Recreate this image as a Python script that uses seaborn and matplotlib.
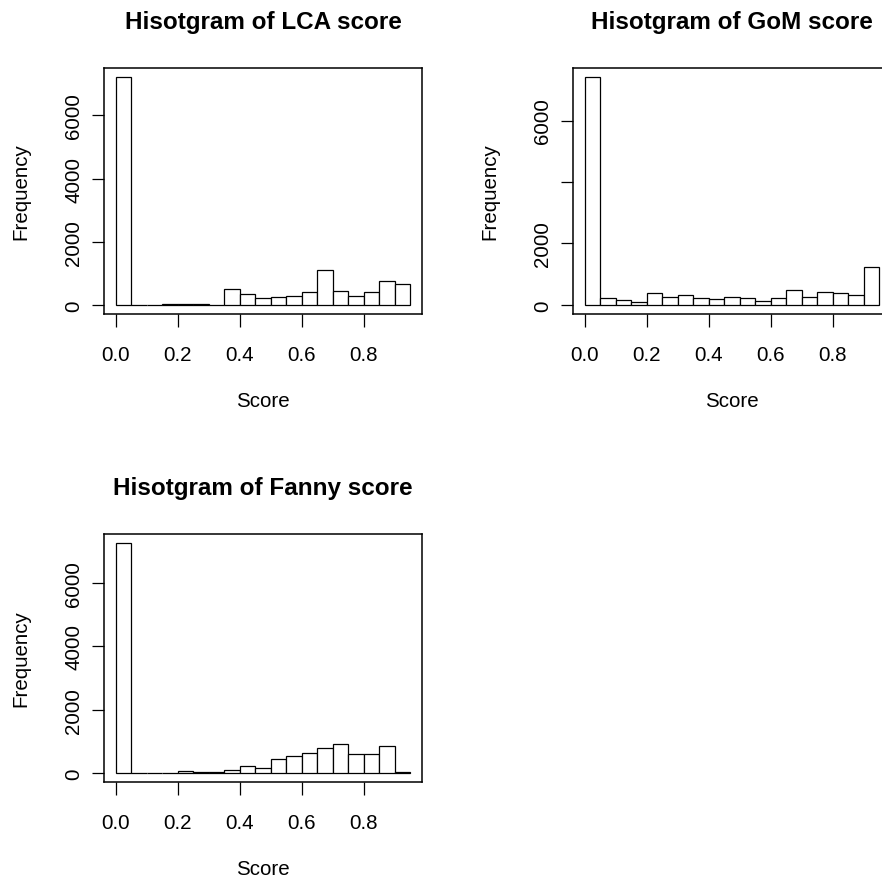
import numpy as np
import pandas as pd
import matplotlib
matplotlib.use("Agg")
import matplotlib.pyplot as plt
import seaborn as sns

# bin edges shared by all three histograms (width 0.05, 0 .. 0.95)
bin_edges = [round(0.05 * i, 2) for i in range(20)]

# counts per bin
lca_counts = [7214, 0, 10, 20, 30, 15, 10, 512, 352, 213, 245, 288, 405,
              1110, 448, 277, 416, 768, 672]
gom_counts = [7412, 208, 175, 88, 373, 263, 318, 219, 186, 263, 230, 132,
              230, 482, 252, 417, 395, 318, 1217]
fanny_counts = [7262, 0, 0, 0, 43, 20, 20, 96, 225, 150, 439, 524, 631,
                770, 898, 610, 610, 834, 32]

titles = ["Hisotgram of LCA score", "Hisotgram of GoM score", "Hisotgram of Fanny score"]
x_ticks = [0.0, 0.2, 0.4, 0.6, 0.8]
x_tick_labels = ["0.0", "0.2", "0.4", "0.6", "0.8"]
y_ticks = [0, 2000, 4000, 6000]
y_tick_labels = [["0", "2000", "4000", "6000"],
                 ["0", "2000", "", "6000"],
                 ["0", "2000", "4000", "6000"]]

sns.set_style("ticks")
plt.rcParams["font.family"] = ["Liberation Sans", "DejaVu Sans"]
plt.rcParams["text.color"] = "black"
plt.rcParams["axes.labelcolor"] = "black"

W, H = 882, 878
fig = plt.figure(figsize=(W / 100, H / 100), dpi=100)

# panel boxes in pixels: (left, top, right, bottom)
boxes = [(104, 69, 422, 315), (573, 69, 891, 315), (104, 535, 422, 783)]
series = [lca_counts, gom_counts, fanny_counts]

centers = [(bin_edges[i] + bin_edges[i + 1]) / 2 for i in range(len(bin_edges) - 1)]

for k in range(3):
    l, t, r, b = boxes[k]
    ax = fig.add_axes([l / W, 1 - b / H, (r - l) / W, (b - t) / H])
    df = pd.DataFrame({"Score": centers, "count": series[k]})
    sns.histplot(data=df, x="Score", weights="count", bins=bin_edges,
                 color="white", edgecolor="black", linewidth=0.9, alpha=1,
                 ax=ax)
    top = max(series[k])
    ax.set_xlim(-0.038, 0.988)
    ax.set_ylim(-0.04 * top, 1.04 * top)
    ax.set_xticks(x_ticks)
    ax.set_xticklabels(x_tick_labels)
    ax.set_yticks(y_ticks)
    ax.set_yticklabels(y_tick_labels[k], rotation=90, va="center")
    ax.tick_params(axis="both", direction="out", length=9, width=0.9,
                   color="black", labelsize=14.8, labelcolor="black")
    ax.tick_params(axis="x", pad=13)
    ax.tick_params(axis="y", pad=6)
    for s in ax.spines.values():
        s.set_visible(True)
        s.set_linewidth(1.1)
        s.set_color("black")
    ax.set_xlabel("Score", fontsize=14.8, labelpad=20)
    ax.set_ylabel("Frequency", fontsize=14.8, labelpad=24)
    ax.set_title(titles[k], fontsize=17.5, fontweight="bold", pad=29)

fig.savefig("out.png", dpi=100)
